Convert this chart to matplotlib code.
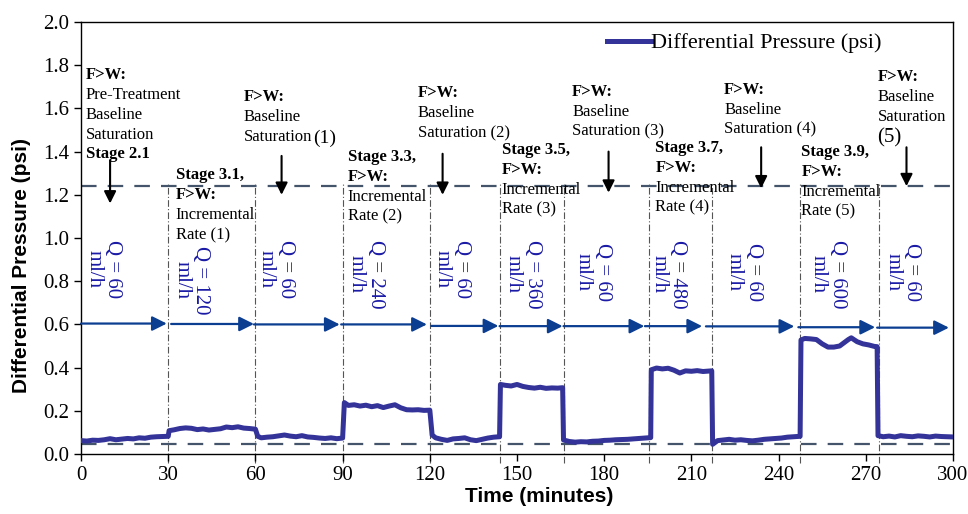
"""
Differential pressure across the core during the flow-rate staging test.
Fresh water (F>W) is pumped at a baseline rate between incremental-rate stages;
the plot shows the pressure trace with the stage annotations on top.
"""

import matplotlib.pyplot as plt

# Pressure trace (time in minutes, pressure in psi)
time_min = [
    0, 2, 4, 6, 8, 10, 12, 14, 16, 18, 20, 22, 24, 26, 28, 30,
    30.3, 32, 34, 36, 38, 40, 42, 44, 46, 48, 50, 52, 54, 56, 58, 60,
    60.8, 62, 64, 66, 68, 70, 72, 74, 76, 78, 80, 82, 84, 86, 88, 90,
    90.6, 92, 94, 96, 98, 100, 102, 104, 106, 108, 110, 112, 114, 116, 118, 120,
    120.8, 122, 124, 126, 128, 130, 132, 134, 136, 138, 140, 142, 144,
    144.3, 146, 148, 150, 152, 154, 156, 158, 160, 162, 164, 165.7,
    166.0, 168, 170, 172, 174, 176, 178, 180, 182, 184, 186, 188, 190, 192, 194, 196,
    196.2, 198, 200, 202, 204, 206, 208, 210, 212, 214, 216, 217,
    217.3, 219, 221, 223, 225, 227, 229, 231, 233, 235, 237, 239, 241, 243, 245, 247.4,
    247.7, 249, 251, 253, 255, 257, 259, 261, 263, 264, 265, 267, 269, 271, 273, 273.9,
    274.2, 276, 278, 280, 282, 284, 286, 288, 290, 292, 294, 296, 298, 300,
]
dp_psi = [
    0.062, 0.060, 0.064, 0.063, 0.066, 0.071, 0.066, 0.069, 0.072, 0.070, 0.075, 0.073, 0.078, 0.080, 0.081, 0.082,
    0.108, 0.112, 0.118, 0.121, 0.119, 0.113, 0.116, 0.111, 0.114, 0.117, 0.125, 0.122, 0.126, 0.120, 0.118, 0.115,
    0.082, 0.075, 0.078, 0.080, 0.084, 0.088, 0.083, 0.080, 0.085, 0.079, 0.077, 0.074, 0.072, 0.075, 0.071, 0.074,
    0.238, 0.225, 0.228, 0.222, 0.226, 0.219, 0.224, 0.215, 0.222, 0.228, 0.214, 0.205, 0.204, 0.205, 0.202, 0.203,
    0.088, 0.075, 0.068, 0.063, 0.070, 0.072, 0.075, 0.066, 0.062, 0.068, 0.074, 0.078, 0.080,
    0.322, 0.318, 0.315, 0.322, 0.313, 0.308, 0.305, 0.309, 0.304, 0.306, 0.305, 0.307,
    0.065, 0.058, 0.055, 0.057, 0.056, 0.059, 0.060, 0.063, 0.064, 0.066, 0.067, 0.068, 0.070, 0.072, 0.074, 0.076,
    0.390, 0.398, 0.394, 0.397, 0.388, 0.375, 0.385, 0.383, 0.386, 0.382, 0.384, 0.385,
    0.045, 0.062, 0.065, 0.068, 0.064, 0.066, 0.063, 0.061, 0.064, 0.068, 0.070, 0.072, 0.074, 0.078, 0.080, 0.082,
    0.528, 0.535, 0.533, 0.530, 0.510, 0.495, 0.495, 0.500, 0.520, 0.530, 0.538, 0.520, 0.510, 0.505, 0.498, 0.497,
    0.085, 0.080, 0.083, 0.079, 0.085, 0.082, 0.080, 0.084, 0.082, 0.079, 0.083, 0.081, 0.080, 0.079,
]

# Stage boundaries (minutes) and reference pressure levels (psi)
stage_bounds = [30, 60, 90, 120, 144, 166, 195.5, 217, 247.5, 274.5]
ref_levels = [1.24, 0.045]

# Injection rate per stage
flow_rates = [60, 120, 60, 240, 60, 360, 60, 480, 60, 600, 60]
rate_label_x = [7.6, 38, 67, 98, 127.5, 152, 176, 202, 228, 257, 282.5]
rate_label_top = [0.99, 0.962, 0.99, 0.99, 0.99, 0.99, 0.975, 0.99, 0.975, 0.99, 0.975]
flow_start = [0, 31, 59.5, 89.5, 120.5, 144, 166, 194, 215, 246.8, 273.9]
flow_end = [29.5, 59.5, 89, 119, 143.6, 165.7, 193.8, 213.7, 245.4, 273.2, 298.6]
flow_y = [0.604, 0.602, 0.600, 0.600, 0.593, 0.592, 0.592, 0.592, 0.591, 0.587, 0.585]

# Stage notes: (x, first line y, [(text, bold), ...])
notes = [
    (1.7, 1.755, [("F>W:", True), ("Pre-Treatment", False), ("Baseline", False),
                  ("Saturation", False), ("Stage 2.1", True)]),
    (56, 1.653, [("F>W:", True), ("Baseline", False), ("Saturation", False)]),
    (32.6, 1.29, [("Stage 3.1,", True), ("F>W:", True), ("Incremental", False), ("Rate (1)", False)]),
    (91.8, 1.375, [("Stage 3.3,", True), ("F>W:", True), ("Incremental", False), ("Rate (2)", False)]),
    (115.8, 1.67, [("F>W:", True), ("Baseline", False), ("Saturation (2)", False)]),
    (144.7, 1.407, [("Stage 3.5,", True), ("F>W:", True), ("Incremental", False), ("Rate (3)", False)]),
    (169, 1.676, [("F>W:", True), ("Baseline", False), ("Saturation (3)", False)]),
    (197.6, 1.417, [("Stage 3.7,", True), ("F>W:", True), ("Incremental", False), ("Rate (4)", False)]),
    (221.3, 1.685, [("F>W:", True), ("Baseline", False), ("Saturation (4)", False)]),
    (247.8, 1.398, [("Stage 3.9,", True), ("F>W:", True), ("Incremental", False), ("Rate (5)", False)]),
    (274, 1.745, [("F>W:", True), ("Baseline", False), ("Saturation", False)]),
]

# Black pointer arrows: x, tail y, head y
pointer_x = [10, 69, 124.4, 181.5, 234, 284]
pointer_top = [1.36, 1.38, 1.39, 1.40, 1.42, 1.42]
pointer_tip = [1.16, 1.20, 1.20, 1.21, 1.23, 1.24]

LINE_STEP = 0.092
FLOW_COLOR = "#0b3d91"
TEXT_BLUE = "#1a1aa6"


def main():
    plt.rcParams["font.family"] = ["Liberation Serif", "DejaVu Serif"]

    fig = plt.figure(figsize=(9.68, 5.14), dpi=100)
    ax = fig.add_axes([0.0837, 0.1167, 0.9008, 0.8405])

    # Pressure trace
    ax.plot(time_min, dp_psi, color="#333399", linewidth=3.6,
            label="Differential Pressure (psi)", zorder=5)

    # Reference levels and stage boundaries
    for lvl in ref_levels:
        ax.axhline(lvl, color="#44546a", linewidth=1.6, dashes=(7, 5), zorder=2)
    ax.vlines(stage_bounds, -0.04, 1.25, colors="#555555", linewidths=0.8,
              linestyles=(0, (6, 2, 1, 2)), clip_on=False, zorder=1)

    # Flow-rate arrows and labels
    for x0, x1, y in zip(flow_start, flow_end, flow_y):
        ax.annotate("", xy=(x1, y), xytext=(x0, y),
                    arrowprops=dict(arrowstyle="-|>", color=FLOW_COLOR, lw=1.6,
                                    mutation_scale=22, shrinkA=0, shrinkB=0))
    for x, top, q in zip(rate_label_x, rate_label_top, flow_rates):
        ax.text(x, top, f"Q = {q}\nml/h", rotation=270, ha="center", va="top",
                multialignment="center", color=TEXT_BLUE, fontsize=15,
                linespacing=1.0)

    # Stage notes
    for x, y0, lines in notes:
        for i, (txt, bold) in enumerate(lines):
            ax.text(x, y0 - i * LINE_STEP, txt, ha="left", va="center", fontsize=12,
                    fontweight="bold" if bold else "normal")
    # the larger bracketed numbers
    ax.text(79.7, 1.463, "(1)", ha="left", va="center", fontsize=14)
    ax.text(274, 1.463, "(5)", ha="left", va="center", fontsize=15)

    # Pointer arrows
    for x, y0, y1 in zip(pointer_x, pointer_top, pointer_tip):
        ax.annotate("", xy=(x, y1), xytext=(x, y0),
                    arrowprops=dict(arrowstyle="-|>", color="black", lw=1.5,
                                    mutation_scale=18, shrinkA=0, shrinkB=0))

    # Axes
    ax.set_xlim(0, 300)
    ax.set_ylim(0, 2.0)
    ax.set_xticks(range(0, 301, 30))
    ax.set_yticks([i * 0.2 for i in range(11)])
    ax.set_yticklabels([f"{i * 0.2:.1f}" for i in range(11)])
    ax.tick_params(direction="out", length=5, width=1, labelsize=15)
    for s in ax.spines.values():
        s.set_linewidth(1.0)

    ax.set_xlabel("Time (minutes)", family="Liberation Sans", fontweight="bold", fontsize=15)
    ax.set_ylabel("Differential Pressure (psi)", family="Liberation Sans",
                  fontweight="bold", fontsize=15)
    ax.xaxis.set_label_coords(0.525, -0.076)
    ax.yaxis.set_label_coords(-0.057, 0.436)

    ax.legend(loc="center left", bbox_to_anchor=(0.603, 0.951), frameon=False,
              fontsize=16, handlelength=2.0, handletextpad=0.0,
              borderpad=0, borderaxespad=0)

    fig.savefig("out.png", dpi=100)


if __name__ == "__main__":
    main()
